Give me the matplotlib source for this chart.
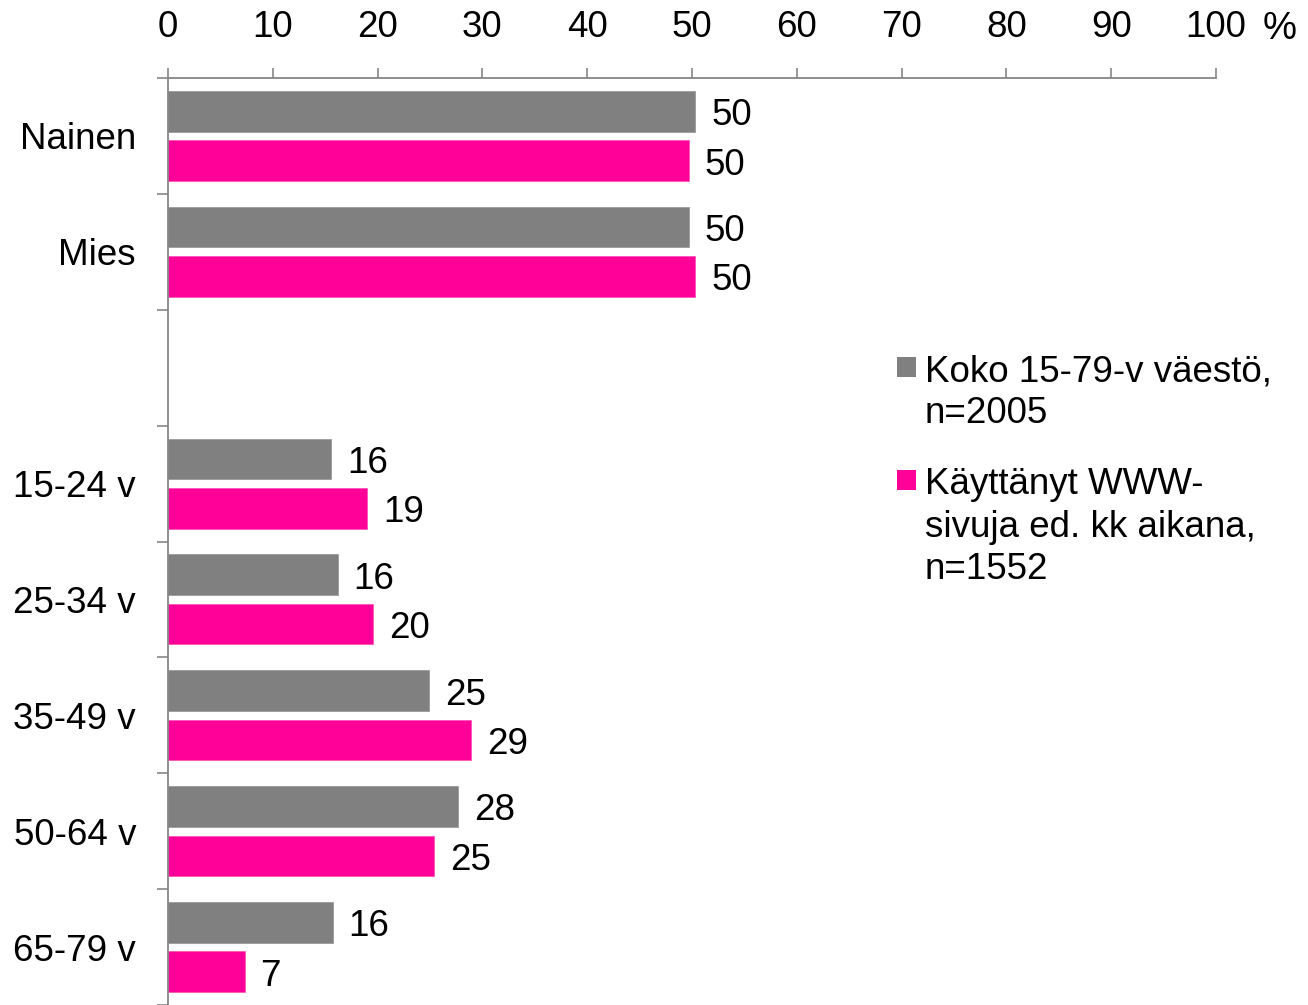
import numpy as np
import matplotlib
matplotlib.use("Agg")
import matplotlib.pyplot as plt
from matplotlib.patches import Rectangle

plt.rcParams['font.family'] = ['Liberation Sans', 'DejaVu Sans']

categories = ["Nainen", "Mies", "", "15-24 v", "25-34 v", "35-49 v", "50-64 v", "65-79 v"]
koko = [50.3, 49.7, np.nan, 15.6, 16.2, 24.9, 27.7, 15.7]
www = [49.7, 50.3, np.nan, 19.0, 19.6, 28.9, 25.4, 7.3]
series_names = [["Koko 15-79-v väestö,", "n=2005"],
                ["Käyttänyt WWW-", "sivuja ed. kk aikana,", "n=1552"]]
xticks = list(range(0, 101, 10))

GREY = "#808080"
PINK = "#FF0099"
AX_COL = "#868686"
FS = 26.5

W, H = 1308, 1005
fig = plt.figure(figsize=(W / 100, H / 100), dpi=100)
ax = fig.add_axes([168 / W, 0, (1216 - 168) / W, 927 / H])

pos = np.arange(len(categories))
off = 0.213
bh = 0.35
ax.barh(pos - off, koko, height=bh, color=GREY, edgecolor="#9a9a9a", linewidth=0.6)
ax.barh(pos + off, www, height=bh, color=PINK, edgecolor="#ff55bb", linewidth=0.6)

for vals, o in ((koko, -off), (www, off)):
    for p, v in zip(pos, vals):
        if np.isnan(v):
            continue
        ax.annotate(f"{int(round(v))}", (v, p + o), xytext=(11.5, -3.2),
                    textcoords="offset points", ha="left", va="center",
                    fontsize=FS, color="black", annotation_clip=False)

ax.set_xlim(0, 100)
ax.set_ylim(len(categories) - 0.5, -0.5)

ax.xaxis.tick_top()
ax.set_xticks(xticks)
ax.set_xticklabels([str(t) for t in xticks], fontsize=FS)
ax.tick_params(axis="x", which="major", direction="out", length=7.5, width=1.2,
               color=AX_COL, pad=16.5)

ax.set_yticks(pos)
ax.set_yticklabels(categories, fontsize=FS)
ax.set_yticks(np.arange(-0.5, len(categories) + 0.5, 1), minor=True)
ax.tick_params(axis="y", which="major", length=0, pad=23)
ax.tick_params(axis="y", which="minor", direction="out", length=8, width=1.2, color=AX_COL)

for s in ("right", "bottom"):
    ax.spines[s].set_visible(False)
for s in ("top", "left"):
    ax.spines[s].set_color(AX_COL)
    ax.spines[s].set_linewidth(1.3)

fig.text(1280 / W, 1 - 39 / H, "%", ha="center", va="baseline", fontsize=FS + 1)

# legend
tx = 925 / W
sq = 19
entries = [(GREY, series_names[0], [381, 423]), (PINK, series_names[1], [494, 537, 579])]
for col, lines, bases in entries:
    sq_center = bases[0] - 14
    fig.add_artist(Rectangle((897 / W, 1 - (sq_center + sq / 2) / H), sq / W, sq / H,
                             transform=fig.transFigure, facecolor=col, edgecolor="none"))
    for line, b in zip(lines, bases):
        fig.text(tx, 1 - b / H, line, ha="left", va="baseline", fontsize=FS)

fig.savefig("out.png", dpi=100)
